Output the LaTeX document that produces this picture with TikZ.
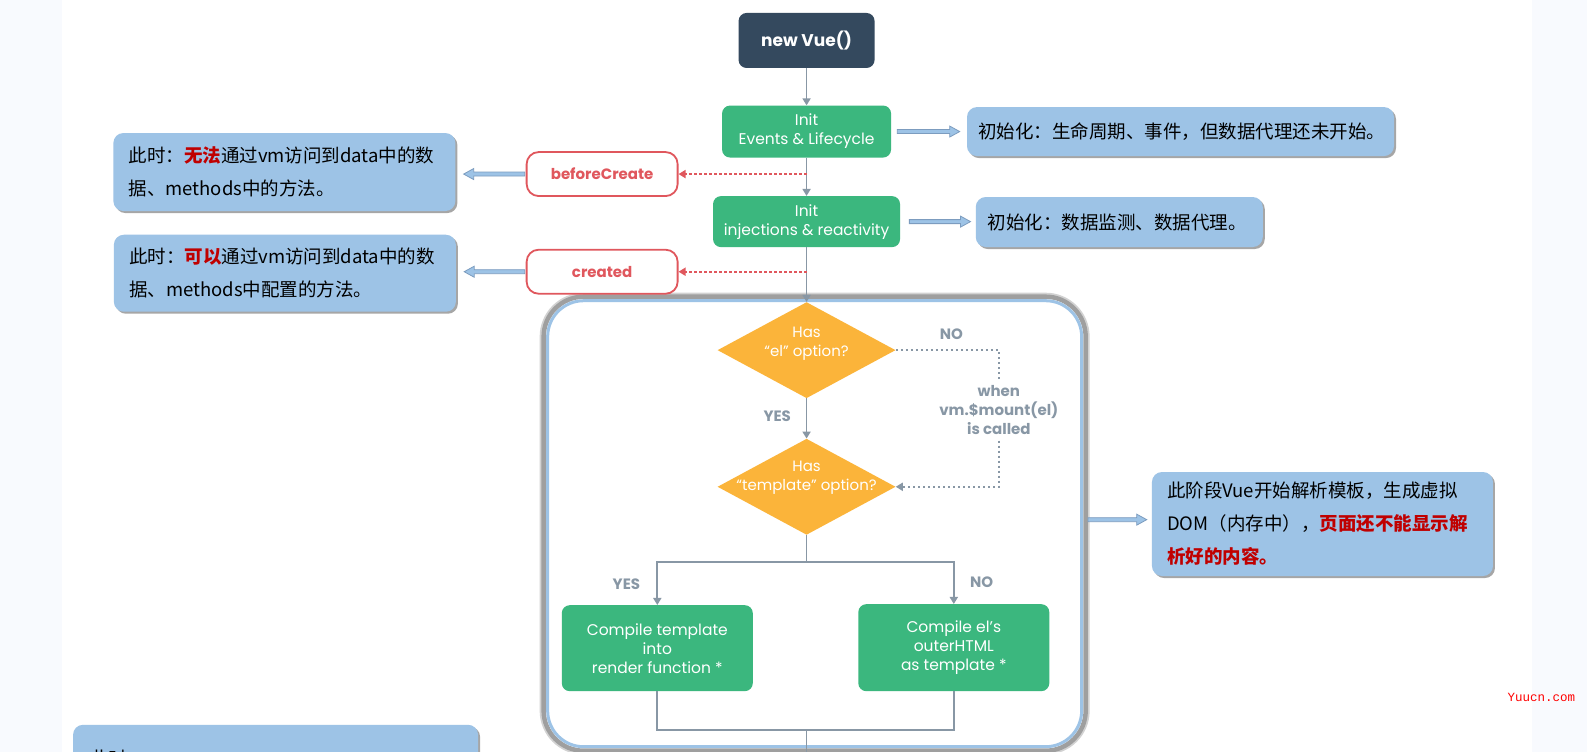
\documentclass[tikz,border=0pt]{standalone}
\usepackage{fontspec}
\setmainfont{Poppins}
\newfontfamily\cjk{Noto Sans CJK SC}
\newfontfamily\wmfont{Liberation Mono}
\usetikzlibrary{shapes.geometric,arrows.meta,shadows,calc}
\definecolor{vdark}{HTML}{34495E}
\definecolor{vgreen}{HTML}{3BB77E}
\definecolor{vyellow}{HTML}{FBB43A}
\definecolor{vgrey}{HTML}{8897A5}
\definecolor{vred}{HTML}{E0575D}
\definecolor{hlred}{HTML}{C00000}
\definecolor{bfill}{HTML}{9DC3E6}
\definecolor{bedge}{HTML}{7C9CBF}
\definecolor{bgside}{HTML}{F8FAFE}
\newcommand\rbarr[4]{%
  \coordinate (s) at ($(#1)+#2$);
  \coordinate (e0) at ($(#3)+#4$);
  \coordinate (e) at (e0 |- s);
  \draw[barrow] ($(s)+(0pt,2pt)$) -- ($(e)+(-10pt,2pt)$) -- ($(e)+(-10pt,5.5pt)$) -- (e) -- ($(e)+(-10pt,-5.5pt)$) -- ($(e)+(-10pt,-2pt)$) -- ($(s)+(0pt,-2pt)$) -- cycle;}
\newcommand\lbarr[4]{%
  \coordinate (s) at ($(#1)+#2$);
  \coordinate (e0) at ($(#3)+#4$);
  \coordinate (e) at (e0 |- s);
  \draw[barrow] ($(s)+(0pt,2pt)$) -- ($(e)+(10pt,2pt)$) -- ($(e)+(10pt,5.5pt)$) -- (e) -- ($(e)+(10pt,-5.5pt)$) -- ($(e)+(10pt,-2pt)$) -- ($(s)+(0pt,-2pt)$) -- cycle;}
\begin{document}
\begin{tikzpicture}[x=1.012pt,y=-1.012pt,
  tip/.style={-{Triangle[length=7pt,width=8pt]}},
  flow/.style={draw=vgrey,line width=1.8pt,tip},
  gline/.style={draw=vgrey,line width=1.8pt},
  hookline/.style={draw=vred,line width=2pt,dash pattern=on 2.5pt off 2.5pt,-{Triangle[length=7pt,width=8pt]}},
  ndot/.style={draw=vgrey,line width=2pt,dash pattern=on 2pt off 3pt},
  darkbox/.style={fill=vdark,rounded corners=8pt,text=white,font=\bfseries\fontsize{17}{20}\selectfont,inner sep=0pt},
  greenbox/.style={fill=vgreen,rounded corners=8pt,text=white,font=\fontsize{15.5}{19}\selectfont,align=center,inner sep=0pt},
  hookbox/.style={draw=vred,line width=1.8pt,fill=white,rounded corners=12pt,text=vred,font=\bfseries\fontsize{15}{18}\selectfont,minimum width=151pt,minimum height=44pt,inner sep=0pt},
  cnbox/.style={fill=bfill,rounded corners=10pt,inner sep=0pt,drop shadow={shadow xshift=2pt,shadow yshift=-2pt,opacity=0.35,fill=black}},
  cntext/.style={font=\cjk\fontsize{18.5}{33}\selectfont,align=left,inner sep=0pt,anchor=west,text=black},
  dec/.style={diamond,fill=vyellow,inner sep=0pt,minimum width=178pt,minimum height=96pt},
  dtext/.style={text=white,font=\fontsize{15}{19}\selectfont,align=center,inner sep=0pt},
  lab/.style={text=vgrey,font=\bfseries\fontsize{15}{19}\selectfont,align=center},
  barrow/.style={draw=bedge,fill=bfill,line width=0.8pt,line join=miter}
]
\useasboundingbox (0pt,0pt) rectangle (1587pt,-752pt);
\clip (0pt,0pt) rectangle (1587pt,-752pt);
\fill[white] (0pt,0pt) rectangle (1587pt,-752pt);
\fill[bgside] (0pt,0pt) rectangle (62pt,-752pt);
\fill[bgside] (1532pt,0pt) rectangle (1587pt,-752pt);

% big frame
\node[draw=gray!75,line width=4.5pt,fill=white,rounded corners=40pt,minimum width=542pt,minimum height=454pt,inner sep=0pt,preaction={draw=gray!35,line width=8pt}] (big) at (805,517.5) {};
\node[draw=bfill,line width=3pt,rounded corners=36pt,minimum width=534pt,minimum height=446pt,inner sep=0pt] (bigin) at (big.center) {};

% top nodes
\node[darkbox,minimum width=136pt,minimum height=55pt] (vue) at (797,40) {new Vue()};
\node[greenbox,minimum width=169pt,minimum height=52pt] (ie) at (797,130) {Init\\Events \& Lifecycle};
\node[greenbox,minimum width=187pt,minimum height=51pt] (ii) at (797,219) {Init\\injections \& reactivity};
\node[hookbox] (bc) at (595,172) {beforeCreate};
\node[hookbox] (cr) at (595,268.5) {created};

% note boxes
\node[cnbox,minimum width=342pt,minimum height=78pt] (n1) at (281,170) {};
\node[cntext] (n1t) at ($(n1.west)+(15,0)$) {此时：{\bfseries\color{hlred}无法}通过vm访问到data中的数\\据、methods中的方法。};
\node[cnbox,minimum width=342pt,minimum height=77pt] (n2) at (281.5,270) {};
\node[cntext] (n2t) at ($(n2.west)+(15,0)$) {此时：{\bfseries\color{hlred}可以}通过vm访问到data中的数\\据、methods中配置的方法。};
\node[cnbox,minimum width=427pt,minimum height=49pt] (r1) at (1166.5,130) {};
\node[cntext] (r1t) at ($(r1.west)+(11,0)$) {初始化：生命周期、事件，但数据代理还未开始。};
\node[cnbox,minimum width=287pt,minimum height=50pt] (r2) at (1106,219.4) {};
\node[cntext] (r2t) at ($(r2.west)+(12,0)$) {初始化：数据监测、数据代理。};
\node[cnbox,minimum width=341pt,minimum height=104pt] (r3) at (1306.8,517.8) {};
\node[cntext] (r3t) at ($(r3.west)+(15,0)$) {此阶段Vue开始解析模板，生成虚拟\\DOM（内存中），{\bfseries\color{hlred}页面还不能显示解}\\{\bfseries\color{hlred}析好的内容。}};
\node[cnbox,minimum width=405pt,minimum height=80pt,anchor=north west] (n3) at (72,716) {};
\node[cntext] (n3t) at ($(n3.north west)+(17,33)$) {此时：};

% decisions
\node[dec] (d1) at (797,346) {};
\node[dtext] (d1t) at (797,340) {Has\\“el” option?};
\node[dec] (d2) at (797,481) {};
\node[dtext] (d2t) at (797,472) {Has\\“template” option?};
\node[lab] (no1) at (940,330) {NO};
\node[lab] (yes1) at (768,411) {YES};
\node[lab,inner ysep=6pt] (mnt) at (987,405) {when\\vm.\$mount(el)\\is called};
\node[lab] (yes2) at (619,577) {YES};
\node[lab] (no2) at (970,575) {NO};

% compile boxes
\node[greenbox,minimum width=191pt,minimum height=86pt] (c1) at (649.5,640.5) {Compile template\\into\\render function *};
\node[greenbox,minimum width=191pt,minimum height=87pt] (c2) at (942.5,640) {Compile el’s\\outerHTML\\as template *};

% watermark
\node[text=red,font=\wmfont\fontsize{12.5}{14}\selectfont] (wm) at (1523,689) {Yuucn.com};

% connectors
\draw[flow] (vue) -- (ie);
\draw[flow] (ie) -- (ii);
\draw[flow] (ii) -- (d1.north);
\draw[hookline] (bc.east -| ie.south) -- (bc.east);
\draw[hookline] (cr.east -| ii.south) -- (cr.east);
\draw[ndot] (d1.east) -| (mnt.north);
\draw[ndot,tip] (mnt.south) |- (d2.east);
\draw[flow] (d1.south) -- (d2.north);
\coordinate (br) at (797,555);
\draw[gline] (d2.south) -- (br);
\draw[flow] (br) -| (c1.north);
\draw[flow] (br) -| (c2.north);
\coordinate (mg) at (797,721);
\draw[gline] (c1.south) |- (mg);
\draw[gline] (c2.south) |- (mg);
\coordinate (bot) at (797,760);
\draw[gline] (mg) -- (bot);

% blue arrows
\lbarr{bc.west}{(-1,0)}{n1.east}{(8,0)}
\lbarr{cr.west}{(-1,0)}{n2.east}{(8,0)}
\rbarr{ie.east}{(6,0)}{r1.west}{(-7,0)}
\rbarr{ii.east}{(9,0)}{r2.west}{(-5,0)}
\rbarr{big.east}{(0,-4)}{r3.west}{(-5,0)}
\end{tikzpicture}
\end{document}
